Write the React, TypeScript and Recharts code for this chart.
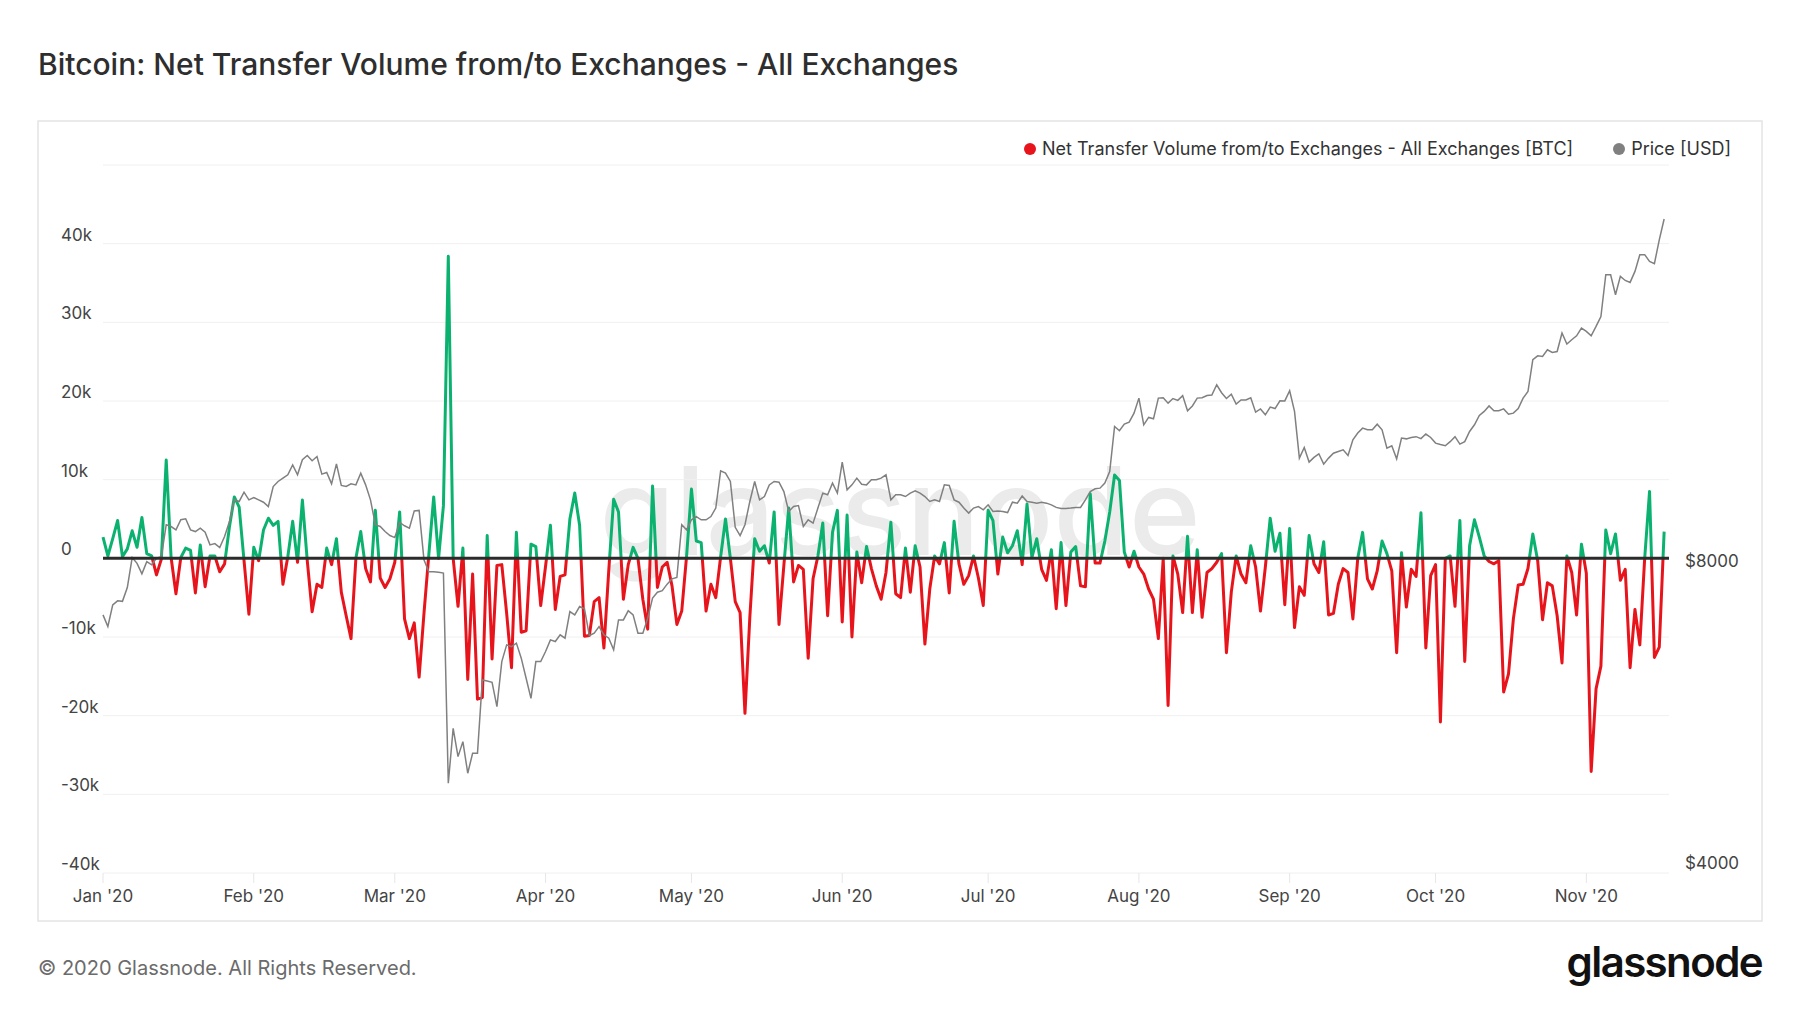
import { LineChart, Line, XAxis, YAxis, CartesianGrid, ReferenceLine } from 'recharts';

// day index 0 = 1 Jan 2020
const MONTH_TICKS = [0, 31, 60, 91, 121, 152, 182, 213, 244, 274, 305];
const MONTH_LABELS = ["Jan '20", "Feb '20", "Mar '20", "Apr '20", "May '20", "Jun '20", "Jul '20", "Aug '20", "Sep '20", "Oct '20", "Nov '20"];
const NET_TICKS = [-40000, -30000, -20000, -10000, 0, 10000, 20000, 30000, 40000, 50000];
const PRICE_TICKS = [4000, 8000];

// net transfer volume, BTC per day
const NET_FLOW = [
  2700, 300, 2500, 4800, 200, 1200, 3500, 1400, 5200, 600,
  300, -2100, -100, 12500, 100, -4500, 100, 1300, 1000, -4400,
  1700, -3600, 300, 300, -1700, -700, 4000, 7800, 6500, -300,
  -7100, 1400, -300, 3600, 5100, 4200, 4700, -3300, 200, 4700,
  -500, 7400, -300, -6800, -3300, -3700, 1300, -800, 2500, -4300,
  -7300, -10200, 0, 3400, -1300, -3000, 6100, -2500, -3700, -2600,
  -500, 5900, -7700, -10200, -8200, -15100, -7000, 500, 7800, 0,
  6700, 38400, 0, -6100, 1300, -15400, -2000, -17900, -17700, 2900,
  -12800, -900, -800, -7000, -13900, 3300, -9400, -9200, 1800, 1500,
  -6000, -1000, 4200, -6500, -2300, -2100, 5000, 8300, 4200, -9900,
  -9800, -5500, -5000, -11400, -1500, 7500, 5900, -5200, -800, 1400,
  0, -5200, -9000, 9200, -3700, -1100, -500, -3500, -8400, -6700,
  300, 8800, 2200, 2000, -6700, -3300, -5000, 200, 5000, 0,
  -5500, -6900, -19700, -7500, 2500, 900, 1600, -600, 5900, -8400,
  -900, 6400, -3000, -900, -1400, -12700, -2600, 300, 4500, -7300,
  3300, 6100, -8100, 5500, -10000, 800, -3100, 1500, -1300, -3500,
  -5200, -1800, 4600, -4500, -5000, 1300, -4300, 1600, -1100, -10900,
  -3900, 300, -700, 2000, -4400, 4700, -700, -3300, -2200, 300,
  -2500, -6000, 6100, 4800, -2000, 2700, 700, 1600, 3500, -800,
  6900, 100, 2500, -1400, -2800, 1100, -6400, 2000, -6000, 800,
  1500, -3500, -3600, 8200, -600, -600, 2200, 5900, 10600, 9900,
  800, -1100, 900, -1100, -2000, -3900, -5200, -10200, 0, -18700,
  300, -2000, -6900, 2800, -6900, 1100, -7500, -1800, -1300, -500,
  600, -12000, -4300, 300, -2000, -3100, 1600, -1100, -6700, -1100,
  5100, 900, 3200, -5900, 3800, -8800, -3600, -4700, 2900, -700,
  -1800, 2100, -7200, -7000, -3300, -1300, -1800, -7700, 0, 3300,
  -2600, -3900, -1600, 2200, 600, -1600, -12000, 700, -6200, -1400,
  -2300, 5800, -11400, -2200, -800, -20800, 0, 300, -6100, 4800,
  -13100, 1600, 4900, 2700, 300, -400, -700, -300, -17000, -14700,
  -7700, -3400, -3300, -1300, 3100, -300, -7800, -3100, -3500, -7300,
  -13300, 300, -1800, -7200, 1800, -1900, -27100, -16600, -13700, 3600,
  600, 3100, -2800, -1400, -13900, -6500, -11000, 0, 8500, -12600,
  -11300, 3400,
];

// BTC price, USD
const PRICE = [
  7232, 7041, 7400, 7469, 7460, 7700, 8248, 8140, 7945, 8172,
  8112, 8236, 8265, 8893, 8857, 8789, 8995, 9015, 8789, 8755,
  8823, 8743, 8492, 8517, 8440, 8656, 8958, 9416, 9381, 9583,
  9416, 9466, 9416, 9365, 9273, 9708, 9821, 9897, 9973, 10203,
  9973, 10323, 10424, 10300, 10400, 9988, 10027, 9768, 10227, 9733,
  9708, 9768, 9745, 10010, 9745, 9416, 8893, 8857, 8755, 8676,
  8635, 8939, 8872, 8823, 9180, 9190, 8205, 7985, 7985, 7975,
  7960, 4915, 5575, 5224, 5407, 5029, 5265, 5265, 6229, 6215,
  6196, 5860, 6497, 6751, 6724, 6778, 6548, 6253, 5972, 6497,
  6497, 6648, 6829, 6803, 6908, 6855, 7286, 7232, 7372, 7332,
  6897, 6935, 7041, 6908, 6855, 6674, 7149, 7149, 7300, 7232,
  6935, 6935, 7176, 7515, 7617, 7646, 7760, 7855, 7879, 8893,
  8789, 8995, 9062, 8995, 8995, 9062, 9240, 10064, 10010, 9821,
  8840, 8676, 8893, 9381, 9821, 9416, 9488, 9745, 9821, 9806,
  9597, 9167, 9273, 9293, 8857, 8995, 8926, 9240, 9562, 9525,
  9784, 9562, 10268, 9634, 9745, 9897, 9760, 9745, 9860, 9860,
  9897, 9973, 9416, 9525, 9525, 9488, 9562, 9612, 9562, 9488,
  9381, 9416, 9381, 9745, 9733, 9416, 9365, 9240, 9133, 9240,
  9273, 9203, 9309, 9167, 9180, 9167, 9145, 9365, 9345, 9500,
  9381, 9365, 9345, 9365, 9345, 9309, 9254, 9230, 9230, 9240,
  9254, 9254, 9416, 9597, 9657, 9672, 9784, 10049, 11142, 11033,
  11202, 11252, 11489, 11891, 11185, 11375, 11340, 11891, 11900, 11755,
  11880, 11830, 11960, 11551, 11680, 11891, 11900, 11960, 11975, 12260,
  12040, 11880, 12000, 11730, 11840, 11840, 11900, 11515, 11600, 11445,
  11650, 11610, 11820, 11815, 12093, 11533, 10362, 10617, 10268, 10380,
  10465, 10220, 10362, 10480, 10520, 10560, 10424, 10808, 10975, 11100,
  11057, 11057, 11202, 11057, 10601, 10659, 10345, 10849, 10830, 10865,
  10885, 10835, 10950, 10865, 10725, 10690, 10659, 10760, 10885, 10700,
  10760, 11015, 11185, 11427, 11533, 11680, 11551, 11551, 11600, 11460,
  11489, 11610, 11891, 12073, 12985, 13103, 13085, 13287, 13205, 13233,
  13805, 13461, 13594, 13719, 13964, 13858, 13719, 14017, 14340, 15780,
  15780, 15075, 15721, 15576, 15506, 15904, 16525, 16525, 16272, 16188,
  17099, 17936,
];

const W = 1800;
const H = 1013;
const PLOT = { left: 103, top: 165, right: 1669, bottom: 873 };
const LEFT_AXIS_W = 60;
const RIGHT_AXIS_W = 100;
const X_AXIS_H = 40;
const FONT = "Inter, 'Noto Sans', sans-serif";
const GREEN = '#0bb26f';
const RED = '#e8141c';

const data = NET_FLOW.map((net, day) => ({ day, net, price: PRICE[day] }));
const maxNet = Math.max(...NET_FLOW);
const minNet = Math.min(...NET_FLOW);
const zeroStop = maxNet / (maxNet - minNet);

const fmtNet = (v: number) => (v === 0 ? '0' : `${v / 1000}k`);

function LeftTick({ y, payload }: any) {
  if (payload.value === 50000) return <g />;
  return (
    <text x={PLOT.left - 42} y={y - 9} dominantBaseline="central" fontSize={17} fill="#444" fontFamily={FONT}>
      {fmtNet(payload.value)}
    </text>
  );
}

function RightTick({ y, payload }: any) {
  return (
    <text x={PLOT.right + 16} y={y - 10} dominantBaseline="central" fontSize={17} fill="#444" fontFamily={FONT}>
      ${payload.value}
    </text>
  );
}

function LegendItem({ color, label }: { color: string; label: string }) {
  return (
    <div style={{ display: 'flex', alignItems: 'center', gap: 6 }}>
      <span style={{ width: 12, height: 12, borderRadius: 6, background: color, display: 'inline-block' }} />
      <span>{label}</span>
    </div>
  );
}

export default function App() {
  return (
    <div style={{ position: 'relative', width: W, height: H, background: '#fff', fontFamily: FONT, overflow: 'hidden' }}>
      <style>{'body{margin:0}'}</style>
      <svg width={W} height={H} style={{ position: 'absolute', left: 0, top: 0 }}>
        <text x={38} y={75} fontSize={30} fontWeight={500} fill="#2e2e2e" fontFamily={FONT}>
          Bitcoin: Net Transfer Volume from/to Exchanges - All Exchanges
        </text>
        <rect x={38} y={121} width={1724} height={800} fill="none" stroke="#e4e4e4" strokeWidth={1.5} />
        <text x={900} y={555} textAnchor="middle" fontSize={122} fontWeight={500} fill="#ebebeb" fontFamily={FONT}>
          glassnode
        </text>
        <text x={38} y={968} dominantBaseline="central" fontSize={20} fill="#6b6b6b" fontFamily={FONT}>
          © 2020 Glassnode. All Rights Reserved.
        </text>
        <text x={1762} y={977} textAnchor="end" fontSize={42} fontWeight={600} letterSpacing={-1.6} fill="#111" fontFamily={FONT}>
          glassnode
        </text>
      </svg>
      <div
        style={{
          position: 'absolute',
          right: W - 1731,
          top: 137,
          display: 'flex',
          gap: 40,
          fontSize: 18,
          color: '#333',
          lineHeight: '24px',
        }}
      >
        <LegendItem color="#e8141c" label="Net Transfer Volume from/to Exchanges - All Exchanges [BTC]" />
        <LegendItem color="#808080" label="Price [USD]" />
      </div>
      <div style={{ position: 'absolute', left: 0, top: 0 }}>
        <LineChart
          width={W}
          height={H}
          data={data}
          margin={{
            top: PLOT.top,
            bottom: H - PLOT.bottom - X_AXIS_H,
            left: PLOT.left - LEFT_AXIS_W,
            right: W - PLOT.right - RIGHT_AXIS_W,
          }}
        >
          <defs>
            <linearGradient id="netGrad" x1="0" y1="0" x2="0" y2="1">
              <stop offset={zeroStop} stopColor={GREEN} />
              <stop offset={zeroStop} stopColor={RED} />
            </linearGradient>
          </defs>
          <CartesianGrid yAxisId="left" vertical={false} stroke="#f0f0f0" />
          <XAxis
            dataKey="day"
            type="number"
            domain={[0, 322]}
            ticks={MONTH_TICKS}
            tickFormatter={(v: number) => MONTH_LABELS[MONTH_TICKS.indexOf(v)]}
            axisLine={false}
            tickLine={{ stroke: '#e6e6e6' }}
            tickSize={10}
            tickMargin={7}
            height={X_AXIS_H}
            tick={{ fontSize: 17, fill: '#444', fontFamily: FONT }}
            interval={0}
          />
          <YAxis
            yAxisId="left"
            domain={[-40000, 50000]}
            ticks={NET_TICKS}
            width={LEFT_AXIS_W}
            axisLine={false}
            tickLine={false}
            tick={<LeftTick />}
            interval={0}
          />
          <YAxis
            yAxisId="right"
            orientation="right"
            scale="log"
            domain={[4000, 20300]}
            ticks={PRICE_TICKS}
            width={RIGHT_AXIS_W}
            axisLine={false}
            tickLine={false}
            tick={<RightTick />}
            interval={0}
          />
          <Line
            yAxisId="left"
            type="linear"
            dataKey="net"
            stroke="url(#netGrad)"
            strokeWidth={3}
            strokeLinejoin="round"
            dot={false}
            activeDot={false}
            isAnimationActive={false}
          />
          <Line
            yAxisId="right"
            type="linear"
            dataKey="price"
            stroke="#808080"
            strokeWidth={1.5}
            dot={false}
            activeDot={false}
            isAnimationActive={false}
          />
          <ReferenceLine yAxisId="left" y={0} stroke="#2b2b2b" strokeWidth={3} />
        </LineChart>
      </div>
    </div>
  );
}
